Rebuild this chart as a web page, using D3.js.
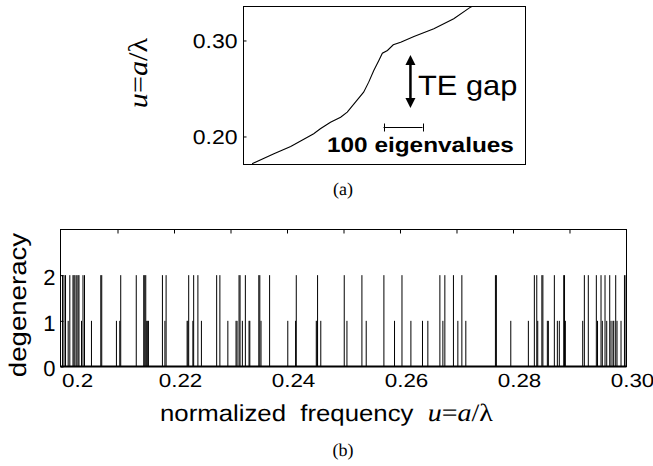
<!DOCTYPE html>
<html><head><meta charset="utf-8">
<script src="https://cdn.jsdelivr.net/npm/d3@7"></script>
<style>body{margin:0;background:#fff} svg{display:block} text{text-rendering:geometricPrecision}</style>
</head><body><svg id="c" width="653" height="466"></svg>
<script>
// ---- (a) eigenvalue staircase: eigenvalue index vs normalized frequency
const eigIndex = [22, 78, 121, 180, 197, 223, 249, 266, 287, 308, 321, 334, 347, 356, 369, 384, 403, 437, 488, 539, 582, 600];
const eigFreq  = [0.1716, 0.1820, 0.1896, 0.2028, 0.2080, 0.2149, 0.2201, 0.2253, 0.2357, 0.2461, 0.2566, 0.2688, 0.2792, 0.2868, 0.2896, 0.2955, 0.2982, 0.3042, 0.3122, 0.3226, 0.3347, 0.3390];
const topYTicks = [0.20, 0.30];
const topYTickLabels = ["0.20", "0.30"];
const scaleBarEigs = 100;

// ---- (b) mode degeneracy vs normalized frequency
const modeFreq = [0.20027,0.20053,0.20080,0.20127,0.20156,0.20212,0.20230,0.20248,0.20279,0.20301,0.20318,0.20363,0.20389,0.20416,0.20539,0.20704,0.20721,0.20981,0.21040,0.21057,0.21332,0.21464,0.21482,0.21500,0.21517,0.21535,0.21547,0.21795,0.21839,0.21860,0.22232,0.22246,0.22260,0.22334,0.22348,0.22423,0.22485,0.22755,0.22812,0.22953,0.23098,0.23116,0.23151,0.23169,0.23210,0.23263,0.23328,0.23342,0.23501,0.23519,0.23540,0.23692,0.24014,0.24152,0.24164,0.24518,0.24532,0.24541,0.24598,0.25013,0.25061,0.25326,0.25402,0.25715,0.25903,0.26035,0.26193,0.26398,0.26493,0.26706,0.26759,0.26794,0.26946,0.27024,0.27095,0.27165,0.27689,0.27706,0.27961,0.28272,0.28378,0.28421,0.28438,0.28511,0.28529,0.28608,0.28626,0.28732,0.28785,0.28820,0.28898,0.28912,0.28927,0.29234,0.29263,0.29333,0.29475,0.29496,0.29558,0.29581,0.29629,0.29659,0.29712,0.29735,0.29770,0.29784,0.29818,0.29841,0.29912,0.29973,0.30000];
const modeDegeneracy = [2,2,2,1,2,2,2,2,2,2,2,1,2,2,1,2,2,1,1,2,2,2,2,2,1,1,1,2,1,2,1,1,2,1,2,2,1,2,2,1,1,1,2,2,1,2,1,1,2,2,1,2,1,1,2,1,1,2,1,2,1,2,1,2,1,2,1,1,1,2,1,2,2,1,2,1,2,2,1,1,2,2,1,2,2,1,1,2,1,1,2,2,1,1,2,2,2,1,2,1,2,1,2,1,1,1,2,1,1,2,2];
const bottomXTicks = [0.20, 0.22, 0.24, 0.26, 0.28, 0.30];
const bottomXTickLabels = ["0.2", "0.22", "0.24", "0.26", "0.28", "0.30"];
const bottomMinorTicks = [0.21, 0.22, 0.23, 0.24, 0.25, 0.26, 0.27, 0.28, 0.29];
const bottomYTicks = [0, 1, 2];

const svg = d3.select("#c");
const SANS = "'Liberation Sans', Arial, Helvetica, sans-serif";
const SERIF = "'Liberation Serif', 'Times New Roman', serif";

// helper: stretch text horizontally around its anchor
function stretch(sel, f) {
  sel.each(function () {
    const t = d3.select(this);
    const x = +t.attr("x") || 0, y = +t.attr("y") || 0;
    const rot = t.attr("data-rot") || 0;
    t.attr("x", null).attr("y", null)
     .attr("transform", `translate(${x},${y}) rotate(${rot}) scale(${f},1)`);
  });
}

// ================= panel (a) =================
const ax = { l: 243.5, r: 525.5, t: 6.5, b: 164.5 };
const xa = d3.scaleLinear().domain([0, 723]).range([ax.l, ax.r]);
const ya = d3.scaleLinear().domain([0.1708, 0.3354]).range([ax.b, ax.t]);

svg.append("clipPath").attr("id", "clipA").append("rect")
  .attr("x", ax.l).attr("y", ax.t).attr("width", ax.r - ax.l).attr("height", ax.b - ax.t);

const ptsA = eigIndex.map((d, i) => [d, eigFreq[i]]);
svg.append("path").datum(ptsA)
  .attr("clip-path", "url(#clipA)")
  .attr("fill", "none").attr("stroke", "#000").attr("stroke-width", 1.1)
  .attr("d", d3.line().x(d => xa(d[0])).y(d => ya(d[1])));

svg.append("rect").attr("x", ax.l).attr("y", ax.t)
  .attr("width", ax.r - ax.l).attr("height", ax.b - ax.t)
  .attr("fill", "none").attr("stroke", "#000").attr("stroke-width", 1);

// y ticks (a)
const yAxisA = d3.axisLeft(ya).tickValues(topYTicks).tickSize(-3)
  .tickFormat((d, i) => topYTickLabels[i]);
const gA = svg.append("g").attr("transform", `translate(${ax.l},0)`).call(yAxisA);
gA.select(".domain").remove();
gA.selectAll(".tick line").attr("stroke", "#000");
gA.selectAll(".tick text").attr("dy", "0.36em")
  .attr("font-family", SANS).attr("font-size", 20).attr("fill", "#000")
  .attr("transform", "scale(1.15,1)").attr("x", -6 / 1.15);

// y label (a)
const ylA = svg.append("text").attr("x", 147).attr("y", 73).attr("data-rot", -90)
  .attr("text-anchor", "middle").attr("font-family", SERIF)
  .attr("font-size", 27).attr("fill", "#000");
ylA.append("tspan").attr("font-style", "italic").attr("fill", "#000").text("u");
ylA.append("tspan").attr("fill", "#000").text("=");
ylA.append("tspan").attr("font-style", "italic").attr("fill", "#000").text("a");
ylA.append("tspan").attr("fill", "#000").text("/λ");
stretch(ylA, 1.12);

// TE gap arrow
const arrowX = xa(428);
const aTop = 55, aBot = 108;
svg.append("line").attr("x1", arrowX).attr("x2", arrowX).attr("y1", aTop + 6).attr("y2", aBot - 6)
  .attr("stroke", "#000").attr("stroke-width", 2.5);
svg.append("path").attr("d", `M${arrowX},${aTop} L${arrowX - 5},${aTop + 10} L${arrowX + 5},${aTop + 10} Z`).attr("fill", "#000");
svg.append("path").attr("d", `M${arrowX},${aBot} L${arrowX - 5},${aBot - 10} L${arrowX + 5},${aBot - 10} Z`).attr("fill", "#000");
const teg = svg.append("text").attr("x", 418).attr("y", 95).attr("font-family", SANS)
  .attr("font-size", 28).attr("fill", "#000").text("TE gap");
stretch(teg, 1.1);

// scale bar: 100 eigenvalues
const sb0 = 359, sb1 = sb0 + scaleBarEigs, sbY = 127.5;
svg.append("line").attr("x1", xa(sb0)).attr("x2", xa(sb1)).attr("y1", sbY).attr("y2", sbY)
  .attr("stroke", "#000").attr("stroke-width", 1);
[sb0, sb1].forEach(v => svg.append("line").attr("x1", Math.round(xa(v)) + 0.5).attr("x2", Math.round(xa(v)) + 0.5)
  .attr("y1", sbY - 4).attr("y2", sbY + 4).attr("stroke", "#000").attr("stroke-width", 1));
const sbt = svg.append("text").attr("x", 327).attr("y", 152).attr("font-family", SANS)
  .attr("font-weight", "bold").attr("font-size", 21).attr("fill", "#000").text("100 eigenvalues");
stretch(sbt, 1.16);

svg.append("text").attr("x", 343).attr("y", 195).attr("text-anchor", "middle")
  .attr("font-family", SERIF).attr("font-size", 18).attr("fill", "#000").text("(a)");

// ================= panel (b) =================
const bx = { l: 60.5, r: 626.5, t: 229.5, b: 366.5 };
const xb = d3.scaleLinear().domain([0.19991, 0.30009]).range([bx.l, bx.r]);
const yb = d3.scaleLinear().domain([0, 3]).range([bx.b, bx.t]);

// bars
svg.append("g").selectAll("line").data(modeFreq).join("line")
  .attr("x1", d => xb(d)).attr("x2", d => xb(d))
  .attr("y1", yb(0)).attr("y2", (d, i) => yb(modeDegeneracy[i]))
  .attr("stroke", "#000").attr("stroke-width", 1);

// frame
svg.append("rect").attr("x", bx.l).attr("y", bx.t)
  .attr("width", bx.r - bx.l).attr("height", bx.b - bx.t)
  .attr("fill", "none").attr("stroke", "#000").attr("stroke-width", 1);
svg.append("line").attr("x1", bx.l).attr("x2", bx.r).attr("y1", bx.b).attr("y2", bx.b)
  .attr("stroke", "#000").attr("stroke-width", 2);

// minor inward ticks at top
const topTicks = d3.axisBottom(xb).tickValues(bottomMinorTicks).tickSize(4).tickFormat("");
const gtt = svg.append("g").attr("transform", `translate(0,${bx.t})`).call(topTicks);
gtt.select(".domain").remove();
gtt.selectAll(".tick line").attr("stroke", "#000");

// x axis labels (kept inside the frame's horizontal span)
const xAxisB = d3.axisBottom(xb).tickValues(bottomXTicks).tickSize(0)
  .tickFormat((d, i) => bottomXTickLabels[i]);
const gxb = svg.append("g").attr("transform", `translate(0,${bx.b})`).call(xAxisB);
gxb.select(".domain").remove();
gxb.selectAll(".tick text").attr("font-family", SANS).attr("font-size", 19).attr("fill", "#000")
  .attr("y", 20).attr("dy", 0).attr("x", 0);
gxb.selectAll(".tick").each(function (d) {
  const t = d3.select(this).select("text");
  const w = this.querySelector("text").getComputedTextLength() * 1.18;
  const cx = Math.max(xb(d) + 6, bx.l + w / 2 + 1);
  t.attr("transform", `translate(${cx - xb(d)},0) scale(1.18,1)`);
});

// y axis labels
const yAxisB = d3.axisLeft(yb).tickValues(bottomYTicks).tickSize(-3).tickFormat(d3.format("d"));
const gyb = svg.append("g").attr("transform", `translate(${bx.l},0)`).call(yAxisB);
gyb.select(".domain").remove();
gyb.selectAll(".tick line").attr("stroke", "#000");
gyb.selectAll(".tick text").attr("font-family", SANS).attr("font-size", 22).attr("fill", "#000")
  .attr("x", -5).attr("dy", "0.42em");

// y label (b)
const ylB = svg.append("text").attr("x", 26).attr("y", 305).attr("data-rot", -90)
  .attr("text-anchor", "middle").attr("font-family", SANS).attr("font-size", 24)
  .attr("fill", "#000").text("degeneracy");
stretch(ylB, 1.15);

// x label (b)
const xlB = svg.append("text").attr("x", 160).attr("y", 421).attr("font-family", SANS)
  .attr("font-size", 23).attr("fill", "#000");
xlB.append("tspan").text("normalized\u00a0\u00a0frequency\u00a0\u00a0");
const xlI = xlB.append("tspan").attr("font-family", SERIF).attr("font-size", 25);
xlI.append("tspan").attr("font-style", "italic").text("u");
xlI.append("tspan").text("=");
xlI.append("tspan").attr("font-style", "italic").text("a");
xlI.append("tspan").text("/λ");
stretch(xlB, 1.12);

svg.append("text").attr("x", 343).attr("y", 456).attr("text-anchor", "middle")
  .attr("font-family", SERIF).attr("font-size", 18).attr("fill", "#000").text("(b)");
</script></body></html>
